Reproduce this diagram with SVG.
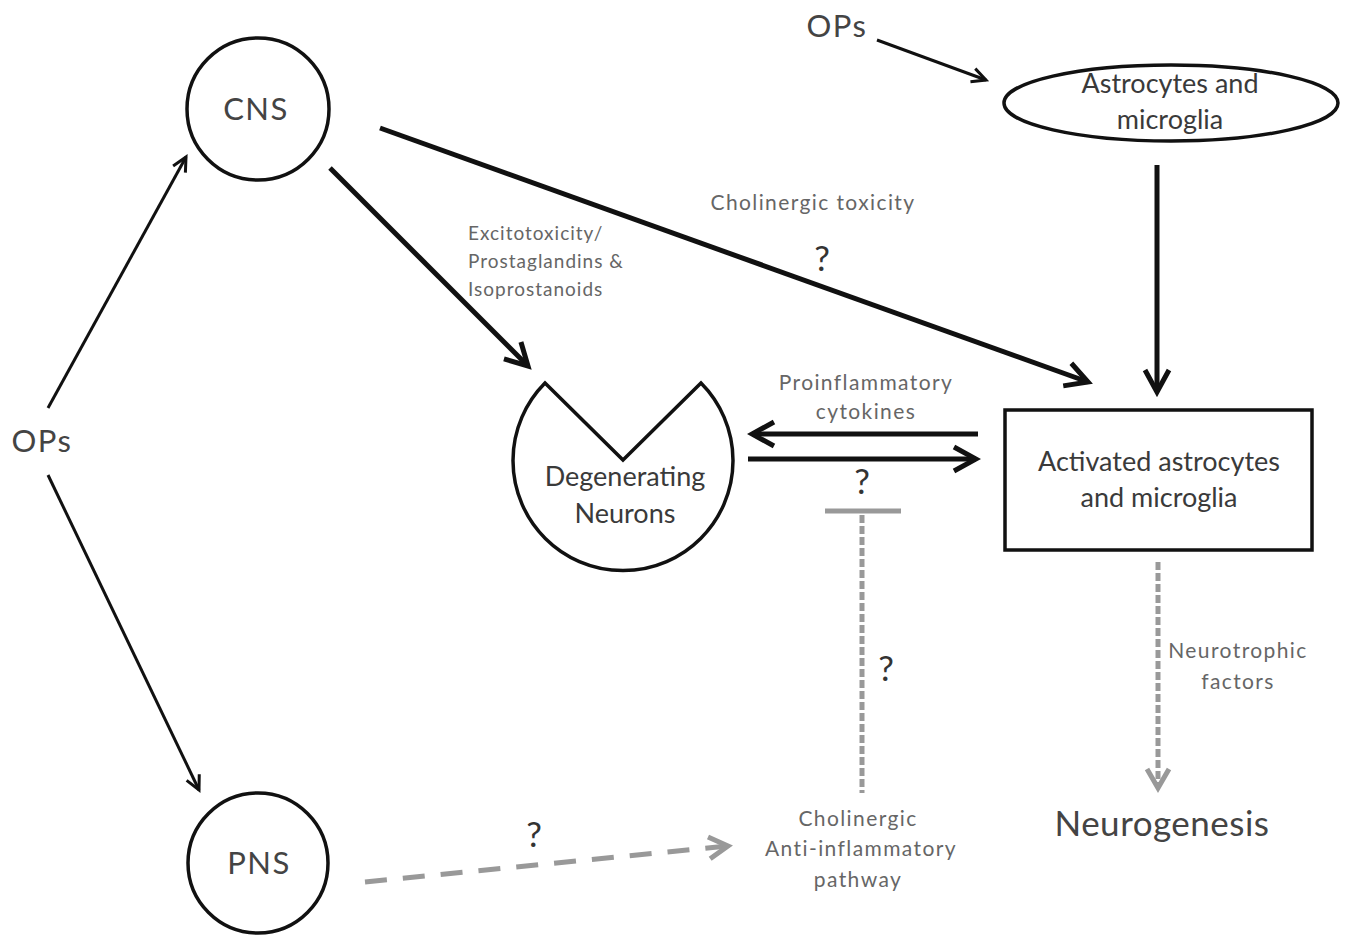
<svg xmlns="http://www.w3.org/2000/svg" width="1349" height="935" viewBox="0 0 1349 935">
<defs>
<style>
.node{fill:#fff;stroke:#111;stroke-width:3.5}
.t{font-family:Lato,"Liberation Sans",sans-serif;fill:#444;text-anchor:middle}
.big{font-size:31px;letter-spacing:1.5px}
.mid{font-size:27px;fill:#3a3a3a}
.lab{font-size:21px;fill:#666;letter-spacing:1.4px}
.lab2{font-size:19px;fill:#666;letter-spacing:1px;text-anchor:start}
.q{font-size:35px;fill:#333}
.thin{stroke:#111;stroke-width:3;fill:none}
.thick{stroke:#111;stroke-width:5;fill:none}
.dash{stroke:#999;stroke-width:5;fill:none}
</style>
<marker id="aThin" markerUnits="userSpaceOnUse" viewBox="0 0 20 20" markerWidth="20" markerHeight="20" refX="17" refY="10" orient="auto">
<path d="M3,3 L17,10 L3,17" fill="none" stroke="#111" stroke-width="3"/>
</marker>
<marker id="aThick" markerUnits="userSpaceOnUse" viewBox="0 0 32 32" markerWidth="32" markerHeight="32" refX="27" refY="16" orient="auto">
<path d="M5,4 L27,16 L5,28" fill="none" stroke="#111" stroke-width="5"/>
</marker>
<marker id="aGray" markerUnits="userSpaceOnUse" viewBox="0 0 32 32" markerWidth="32" markerHeight="32" refX="27" refY="16" orient="auto">
<path d="M8,5 L27,16 L8,27" fill="none" stroke="#999" stroke-width="5"/>
</marker>
</defs>
<rect width="1349" height="935" fill="#fff"/>

<g id="connectors">
<line class="thin" x1="48" y1="408" x2="186" y2="157" marker-end="url(#aThin)"/>
<line class="thin" x1="48" y1="475" x2="199" y2="790" marker-end="url(#aThin)"/>
<line class="thin" x1="877" y1="40" x2="986" y2="80" marker-end="url(#aThin)"/>
<line class="thick" x1="330" y1="168" x2="528" y2="366" marker-end="url(#aThick)"/>
<line class="thick" x1="380" y1="128" x2="1088" y2="382" marker-end="url(#aThick)"/>
<line class="thick" x1="1157" y1="165" x2="1157" y2="392" marker-end="url(#aThick)"/>
<line class="thick" x1="978" y1="434" x2="752" y2="434" marker-end="url(#aThick)"/>
<line class="thick" x1="748" y1="459" x2="976" y2="459" marker-end="url(#aThick)"/>
<line class="dash" x1="825" y1="511" x2="901" y2="511"/>
<line class="dash" x1="862" y1="515" x2="862" y2="793" stroke-dasharray="8 3"/>
<line class="dash" x1="1158" y1="562" x2="1158" y2="788" stroke-dasharray="8 3" marker-end="url(#aGray)"/>
<line class="dash" x1="365" y1="882" x2="728" y2="846" stroke-dasharray="22 16" marker-end="url(#aGray)"/>
</g>

<g id="cns">
<circle class="node" cx="258" cy="109" r="71"/>
<text class="t big" x="256" y="120">CNS</text>
</g>
<g id="pns">
<circle class="node" cx="258" cy="863" r="70"/>
<text class="t big" x="259" y="874">PNS</text>
</g>
<g id="ops-left">
<text class="t big" x="42" y="452">OPs</text>
</g>
<g id="ops-top">
<text class="t big" x="837" y="37">OPs</text>
</g>
<g id="astro">
<ellipse class="node" cx="1171" cy="103" rx="167" ry="38"/>
<text class="t mid" x="1170" y="93">Astrocytes and</text>
<text class="t mid" x="1170" y="129">microglia</text>
</g>
<g id="activated">
<rect class="node" x="1005" y="410" width="307" height="140"/>
<text class="t mid" x="1159" y="471">Activated astrocytes</text>
<text class="t mid" x="1159" y="507">and microglia</text>
</g>
<g id="neurons">
<path class="node" d="M623,460 L701,383 A110,110 0 1 1 545,383 Z"/>
<text class="t mid" x="625" y="486">Degenerating</text>
<text class="t mid" x="625" y="523">Neurons</text>
</g>
<g id="neurogenesis">
<text class="t" style="font-size:35px;letter-spacing:0.5px" x="1162" y="836">Neurogenesis</text>
</g>
<g id="pathway">
<text class="t lab" x="858" y="826">Cholinergic</text>
<text class="t lab" x="861" y="856">Anti-inflammatory</text>
<text class="t lab" x="858" y="887">pathway</text>
</g>

<g id="labels">
<text class="t lab" x="813" y="210">Cholinergic toxicity</text>
<text class="t q" x="822" y="271">?</text>
<text class="t lab2" x="468" y="240">Excitotoxicity/</text>
<text class="t lab2" x="468" y="268">Prostaglandins &amp;</text>
<text class="t lab2" x="468" y="296">Isoprostanoids</text>
<text class="t lab" x="866" y="390">Proinflammatory</text>
<text class="t lab" x="866" y="419">cytokines</text>
<text class="t q" x="862" y="494">?</text>
<text class="t q" x="886" y="681">?</text>
<text class="t q" x="534" y="847">?</text>
<text class="t lab" x="1238" y="658">Neurotrophic</text>
<text class="t lab" x="1238" y="689">factors</text>
</g>
</svg>
